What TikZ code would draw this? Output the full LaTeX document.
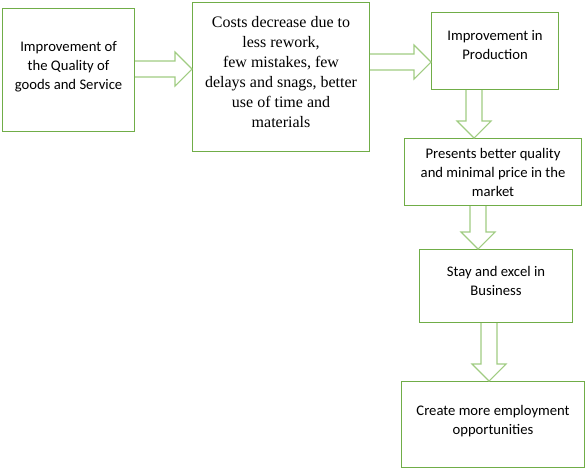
\documentclass[tikz,border=0pt]{standalone}
\usepackage{fontspec}
\setmainfont{Carlito}
\newfontfamily\timesfont{Liberation Serif}
\usetikzlibrary{positioning, calc}
\definecolor{boxgreen}{RGB}{112,173,71}
\definecolor{arrowgreen}{RGB}{160,204,130}

% hollow block arrows between two points
\newcommand{\blockright}[2]{%
  \draw[blockarrow] let \p1=#1, \p2=#2 in
    (\x1,\y1+6pt) -- (\x2-12.75pt,\y1+6pt) -- (\x2-12.75pt,\y1+12.75pt) -- (\x2,\y1)
    -- (\x2-12.75pt,\y1-12.75pt) -- (\x2-12.75pt,\y1-6pt) -- (\x1,\y1-6pt);}
\newcommand{\blockdown}[2]{%
  \draw[blockarrow] let \p1=#1, \p2=#2 in
    (\x1-6pt,\y1) -- (\x1-6pt,\y2+12.75pt) -- (\x1-12.75pt,\y2+12.75pt) -- (\x1,\y2)
    -- (\x1+12.75pt,\y2+12.75pt) -- (\x1+6pt,\y2+12.75pt) -- (\x1+6pt,\y1);}

\begin{document}
\begin{tikzpicture}[
    x=0.75pt, y=-0.75pt,
    stage/.style={rectangle, draw=boxgreen, line width=0.8pt, anchor=north west,
                  align=center, font=\fontsize{11}{14.2}\selectfont, inner sep=2pt},
    blockarrow/.style={draw=arrowgreen, line width=0.8pt, fill=white}
]
    \useasboundingbox (0,0) rectangle (588,469);

    % Top row
    \node[stage, minimum width=99pt, minimum height=92.25pt] (quality) at (2,8)
        {Improvement of\\the Quality of\\goods and Service\\[-6.7pt]};
    \node[stage, minimum width=132.75pt, minimum height=111.75pt,
          font=\timesfont\fontsize{12}{15}\selectfont] (costs) at (192,2)
        {Costs decrease due to\\less rework,\\few mistakes, few\\delays and snags, better\\use of time and\\materials\\[-7.5pt]};
    \node[stage, minimum width=95.25pt, minimum height=57.75pt] (production) at (431,12)
        {Improvement in\\Production\\[-5.2pt]};

    % Right column
    \node[stage, minimum width=132.75pt, minimum height=50.25pt] (market) at (404,138)
        {Presents better quality\\and minimal price in the\\market};
    \node[stage, minimum width=114.75pt, minimum height=54.75pt] (business) at (419,249)
        {Stay and excel in\\Business\\[-6.7pt]};
    \node[stage, minimum width=137.25pt, minimum height=64.5pt] (employ) at (401,381)
        {Create more employment\\opportunities\\[-7.4pt]};

    % Arrows
    \blockright{(quality.east |- 0,69)}{(costs.west |- 0,69)}
    \blockright{(costs.east |- 0,62)}{(production.west |- 0,62)}
    \blockdown{(production.south -| 474,0)}{(market.north -| 474,0)}
    \blockdown{(market.south -| 478,0)}{(business.north -| 478,0)}
    \blockdown{(business.south -| 489,0)}{(employ.north -| 489,0)}
\end{tikzpicture}
\end{document}
